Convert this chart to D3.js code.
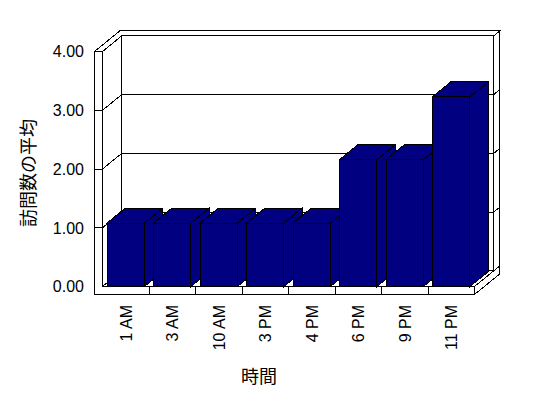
<!DOCTYPE html>
<html>
<head>
<meta charset="utf-8">
<script src="https://cdn.jsdelivr.net/npm/d3@7"></script>
<style>
  html, body { margin: 0; padding: 0; background: #fff; }
  svg { display: block; }
  .ln, .face { shape-rendering: crispEdges; }
</style>
</head>
<body>
<script>
// ---- data ----
const categories = ["1 AM", "3 AM", "10 AM", "3 PM", "4 PM", "6 PM", "9 PM", "11 PM"];
const values = [1.08, 1.08, 1.08, 1.08, 1.08, 2.16, 2.16, 3.23];
const yTicks = [0, 1, 2, 3, 4];
const xTitle = "時間";
const yTitle = "訪問数の平均";

// ---- layout ----
const W = 548, H = 398;
const svg = d3.select("body").append("svg").attr("width", W).attr("height", H);

const x = d3.scaleBand().domain(categories).range([102.5, 474.5]);
const y = d3.scaleLinear().domain([0, 4]).range([286.5, 51.5]);
const D = [19.3, -15.7];      // depth vector (front -> back wall inner face)
const wallOuter = 1.31;        // back wall thickness in depth units
const barDepth = 0.94;
const leftOuter = 94.5, leftInner = 102.5, floorBottom = 294.5;
const xr = 474.5;
const fmt = d3.format(".2f");

const P = (px, py, d) => [px + D[0] * d, py + D[1] * d];
const poly = pts => "M" + pts.map(p => p.join(",")).join("L") + "Z";
const line = (a, b) => "M" + a.join(",") + "L" + b.join(",");

const g = svg.append("g");
const top4 = y(4), base = y(0);

function face(pts, fill) {
  g.append("path").attr("class", "face").attr("d", poly(pts))
    .attr("fill", fill).attr("stroke", "#000").attr("stroke-width", 1);
}
function seg(a, b) {
  g.append("path").attr("class", "ln").attr("d", line(a, b))
    .attr("fill", "none").attr("stroke", "#000").attr("stroke-width", 1);
}

// back wall inner face
face([P(leftInner, top4, 1), P(xr, top4, 1), P(xr, base, 1), P(leftInner, base, 1)], "#fff");
yTicks.filter(v => v > 0 && v < 4).forEach(v => seg(P(leftInner, y(v), 1), P(xr, y(v), 1)));

// left wall inner face
face([[leftInner, top4], P(leftInner, top4, 1), P(leftInner, base, 1), [leftInner, base]], "#fff");
yTicks.filter(v => v > 0 && v < 4).forEach(v => seg([leftInner, y(v)], P(leftInner, y(v), 1)));

// back wall right end face
face([P(xr, top4, 1), P(xr, top4, wallOuter), P(xr, base, wallOuter), P(xr, base, 1)], "#fff");
yTicks.filter(v => v > 0 && v < 4).forEach(v => seg(P(xr, y(v), 1), P(xr, y(v), wallOuter)));

// floor top face
face([[leftInner, base], [xr, base], P(xr, base, 1), P(leftInner, base, 1)], "#fff");
// floor right face
face([[xr, base], [xr, floorBottom], P(xr, floorBottom, wallOuter), P(xr, base, wallOuter)], "#fff");

// top faces of left wall + back wall
face([[leftOuter, top4], [leftInner, top4], P(leftInner, top4, 1), P(xr, top4, 1),
      P(xr, top4, wallOuter), P(leftOuter, top4, wallOuter)], "#fff");

// front L-shaped face (left wall + floor)
face([[leftOuter, top4], [leftInner, top4], [leftInner, base], [xr, base],
      [xr, floorBottom], [leftOuter, floorBottom]], "#fff");
yTicks.filter(v => v > 0 && v < 4).forEach(v => seg([leftOuter, y(v)], [leftInner, y(v)]));
categories.slice(1).forEach(c => seg([x(c), base], [x(c), floorBottom]));

// bars
const bw = x.bandwidth();
const barColor = "#000080";
categories.forEach((c, i) => {
  const x0 = x(c) + bw * 0.097, x1 = x0 + bw * 0.806;
  const yt = y(values[i]), yb = base;
  face([[x1, yb], [x1, yt], P(x1, yt, barDepth), P(x1, yb, barDepth)], barColor);
  face([[x0, yt], [x1, yt], P(x1, yt, barDepth), P(x0, yt, barDepth)], barColor);
  face([[x0, yt], [x1, yt], [x1, yb], [x0, yb]], barColor);
});

// y tick labels
svg.append("g").selectAll("text").data(yTicks).join("text")
  .attr("x", 84).attr("y", d => y(d)).attr("dy", "0.36em")
  .attr("text-anchor", "end")
  .attr("font-family", "Liberation Sans, Arial, sans-serif").attr("font-size", 16)
  .attr("fill", "#000").text(d => fmt(d));

// x tick labels (rotated)
svg.append("g").selectAll("text").data(categories).join("text")
  .attr("transform", d => `translate(${x(d) + bw / 2},305) rotate(-90)`)
  .attr("dy", "0.36em").attr("text-anchor", "end")
  .attr("font-family", "Liberation Sans, Arial, sans-serif").attr("font-size", 16)
  .attr("fill", "#000").text(d => d);

// axis titles
svg.append("text").attr("x", 259).attr("y", 376).attr("dy", "0.38em")
  .attr("text-anchor", "middle")
  .attr("font-family", "Noto Sans CJK JP, sans-serif").attr("font-size", 18)
  .attr("fill", "#000").text(xTitle);
svg.append("text").attr("transform", "translate(28,173) rotate(-90)")
  .attr("dy", "0.38em").attr("text-anchor", "middle")
  .attr("font-family", "Noto Sans CJK JP, sans-serif").attr("font-size", 18)
  .attr("fill", "#000").text(yTitle);
</script>
</body>
</html>
